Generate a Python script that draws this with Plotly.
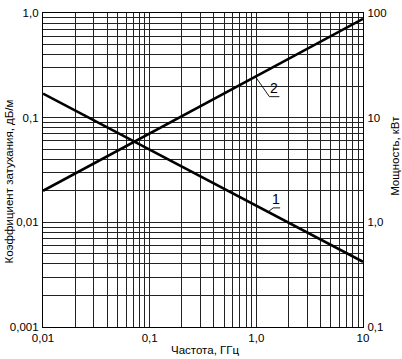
import numpy as np
import plotly.graph_objects as go

# ---- data ----
freq_ghz = [0.01, 10.0]                 # Частота, ГГц
attenuation_db_m = [0.17, 0.0042]       # curve 1, Коэффициент затухания, дБ/м
power_kw = [2.0, 88.0]                  # curve 2, Мощность, кВт

x_tick_vals = [0.01, 0.1, 1.0, 10.0]
x_tick_text = ["0,01", "0,1", "1,0", "10"]
y_tick_vals = [0.001, 0.01, 0.1, 1.0]
y_tick_text = ["0,001", "0,01", "0,1", "1,0"]
y2_tick_vals = [0.1, 1.0, 10.0, 100.0]
y2_tick_text = ["0,1", "1,0", "10", "100"]

FONT = "Liberation Sans, Arial, sans-serif"


def full_grid(decades):
    vals = []
    lo, hi = int(round(np.log10(decades[0]))), int(round(np.log10(decades[-1])))
    for e in range(lo, hi + 1):
        for m in range(1, 10):
            v = m * 10.0 ** e
            if v > decades[-1] * 1.0001:
                break
            vals.append(v)
    return vals


def label_map(vals, tick_vals, tick_text):
    out = []
    for v in vals:
        t = ""
        for tv, tt in zip(tick_vals, tick_text):
            if abs(np.log10(v) - np.log10(tv)) < 1e-6:
                t = tt
        out.append(t)
    return out


def loglog_interp(x, xs, ys):
    return 10 ** np.interp(np.log10(x), np.log10(xs), np.log10(ys))


xg = full_grid(x_tick_vals)
yg = full_grid(y_tick_vals)
y2g = full_grid(y2_tick_vals)

fig = go.Figure()
fig.add_trace(go.Scatter(x=freq_ghz, y=attenuation_db_m, mode="lines",
                         line=dict(color="black", width=2.6), yaxis="y",
                         showlegend=False, hoverinfo="skip"))
fig.add_trace(go.Scatter(x=freq_ghz, y=power_kw, mode="lines",
                         line=dict(color="black", width=2.6), yaxis="y2",
                         showlegend=False, hoverinfo="skip"))

axis_common = dict(type="log", showline=True, linecolor="black", linewidth=1.2,
                   ticks="", tickfont=dict(family=FONT, size=11.5, color="black"),
                   zeroline=False, automargin=False)

fig.update_layout(
    width=402, height=359,
    margin=dict(l=43, r=39, t=13, b=32, autoexpand=False),
    paper_bgcolor="white", plot_bgcolor="white",
    xaxis=dict(range=[-2, 1], tickmode="array", tickvals=xg,
               ticktext=label_map(xg, x_tick_vals, x_tick_text),
               showgrid=True, gridcolor="#222", gridwidth=1,
               mirror=True, **axis_common),
    yaxis=dict(range=[-3, 0], tickmode="array", tickvals=yg,
               ticktext=label_map(yg, y_tick_vals, y_tick_text),
               showgrid=True, gridcolor="#222", gridwidth=1,
               ticklabelstandoff=1, **axis_common),
    yaxis2=dict(range=[-1, 2], tickmode="array", tickvals=y2g,
                ticktext=label_map(y2g, y2_tick_vals, y2_tick_text),
                overlaying="y", side="right", showgrid=False,
                ticklabelstandoff=1, **axis_common),
)

# axis titles
fig.add_annotation(text="Частота, ГГц", xref="paper", yref="paper",
                   x=0.505, y=-0.073, yanchor="middle", showarrow=False,
                   font=dict(family=FONT, size=11.5, color="black"))
fig.add_annotation(text="Коэффициент затухания, дБ/м", xref="paper", yref="paper",
                   x=-0.105, y=0.465, textangle=-90, showarrow=False,
                   xanchor="center", yanchor="middle",
                   font=dict(family=FONT, size=11.5, color="black"))
fig.add_annotation(text="Мощность, кВт", xref="paper", yref="paper",
                   x=1.1, y=0.545, textangle=-90, showarrow=False,
                   xanchor="center", yanchor="middle",
                   font=dict(family=FONT, size=11.5, color="black"))

# curve labels with leader lines
lab2_x = 0.98
lab2_y = loglog_interp(lab2_x, freq_ghz, power_kw)
fig.add_shape(type="path", xref="x", yref="y2", xsizemode="pixel", ysizemode="pixel",
              xanchor=lab2_x, yanchor=lab2_y,
              path="M0,0 L14,-20 L24,-20", line=dict(color="black", width=0.9))
fig.add_annotation(x=np.log10(lab2_x), y=np.log10(lab2_y), xref="x", yref="y2",
                   text="2", showarrow=False, xshift=19, yshift=-11,
                   font=dict(family=FONT, size=14, color="black"))

lab1_x = 1.29
lab1_y = loglog_interp(lab1_x, freq_ghz, attenuation_db_m)
fig.add_shape(type="path", xref="x", yref="y", xsizemode="pixel", ysizemode="pixel",
              xanchor=lab1_x, yanchor=lab1_y,
              path="M0,0 L5,4 L12,4", line=dict(color="black", width=0.9))
fig.add_annotation(x=np.log10(lab1_x), y=np.log10(lab1_y), xref="x", yref="y",
                   text="1", showarrow=False, xshift=8, yshift=13,
                   font=dict(family=FONT, size=14, color="black"))

fig.write_html("out.html", config={"displayModeBar": False},
               post_script="document.body.style.margin='0';")
